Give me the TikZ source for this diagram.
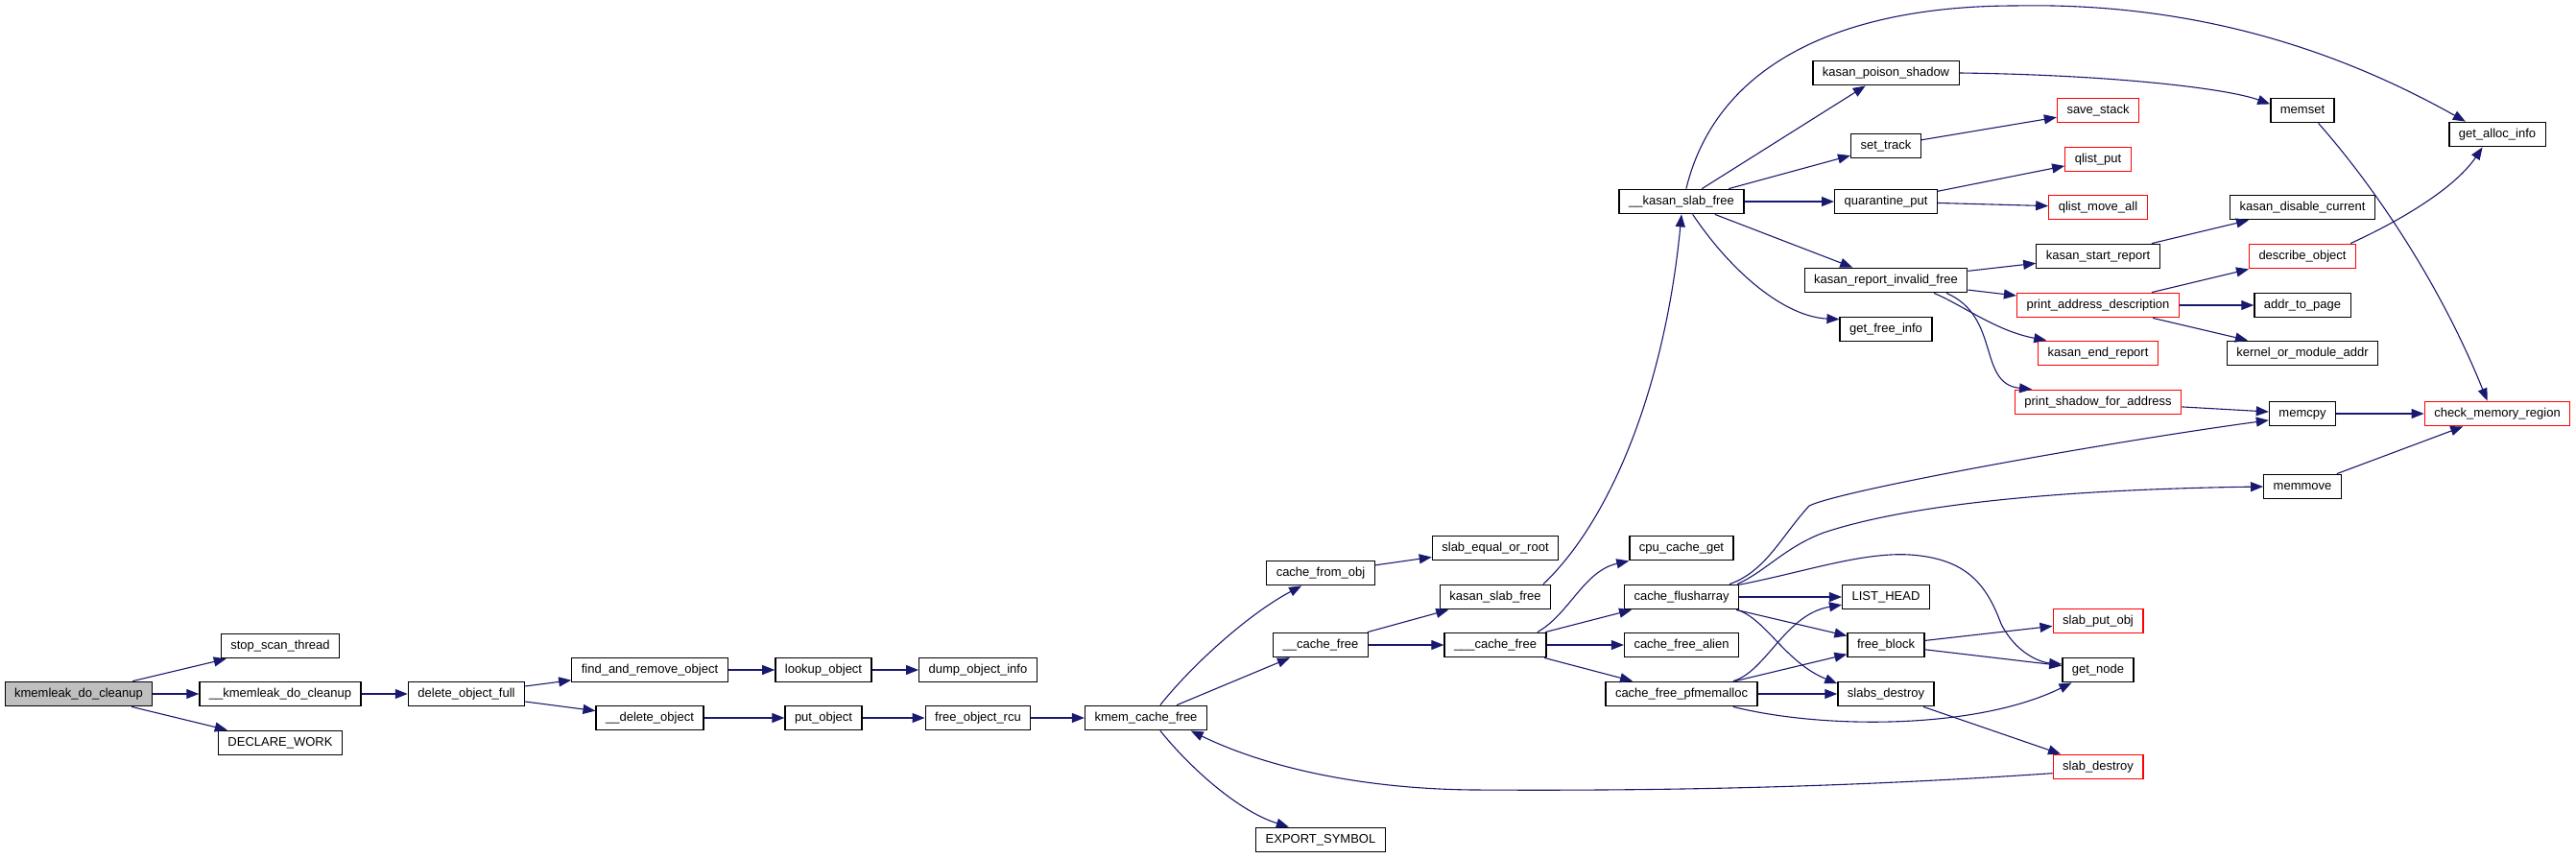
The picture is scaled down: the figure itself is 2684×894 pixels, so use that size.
\documentclass[tikz,border=0pt]{standalone}
\usepackage{fontspec}
\newfontfamily\callfont{Liberation Sans}
\usetikzlibrary{arrows.meta}
\definecolor{CallBlue}{HTML}{191970}
\definecolor{CallRed}{HTML}{FF0000}
\definecolor{CallGray}{HTML}{BFBFBF}

\begin{document}
\begin{tikzpicture}[x=1pt,y=-1pt,
  fn/.style={draw=black,line width=1.3pt,fill=white,inner xsep=10pt,inner ysep=0pt,
    minimum height=25.5pt,text height=9.4pt,text depth=2.8pt,
    font=\callfont\fontsize{13}{15}\selectfont},
  fnred/.style={fn,draw=CallRed},
  fnroot/.style={fn,fill=CallGray},
  call/.style={draw=CallBlue,line width=1.1pt,-{Triangle[length=13pt,width=10pt]}}]
  \useasboundingbox (0,0) rectangle (2684,894);
  \foreach \nm/\px/\py/\sty/\lbl in {
    kdc/82/723/fnroot/kmemleak\_do\_cleanup,
    sst/292/673/fn/stop\_scan\_thread,
    ikdc/292/723/fn/\_\_kmemleak\_do\_cleanup,
    dw/292/774/fn/DECLARE\_WORK,
    dof/486/723/fn/delete\_object\_full,
    faro/677/698/fn/find\_and\_remove\_object,
    idelo/677/748/fn/\_\_delete\_object,
    lo/858/698/fn/lookup\_object,
    po/858/748/fn/put\_object,
    doi/1019/698/fn/dump\_object\_info,
    fobr/1019/748/fn/free\_object\_rcu,
    kcf/1194/748/fn/kmem\_cache\_free,
    cfo/1376/597/fn/cache\_from\_obj,
    icf/1376/672/fn/\_\_cache\_free,
    es/1376/875/fn/EXPORT\_SYMBOL,
    seor/1558/571/fn/slab\_equal\_or\_root,
    ksf/1558/622/fn/kasan\_slab\_free,
    iicf/1558/672/fn/\_\_\_cache\_free,
    iksf/1752/210/fn/\_\_kasan\_slab\_free,
    ccg/1752/571/fn/cpu\_cache\_get,
    cfa/1752/622/fn/cache\_flusharray,
    cfal/1752/672/fn/cache\_free\_alien,
    cfp/1752/723/fn/cache\_free\_pfmemalloc,
    kps/1965/76/fn/kasan\_poison\_shadow,
    st/1965/152/fn/set\_track,
    qp/1965/210/fn/quarantine\_put,
    krif/1965/292/fn/kasan\_report\_invalid\_free,
    gfi/1965/343/fn/get\_free\_info,
    lh/1965/622/fn/LIST\_HEAD,
    fb/1965/672/fn/free\_block,
    sd/1965/723/fn/slabs\_destroy,
    ss/2186/115/fnred/save\_stack,
    qlp/2186/166/fnred/qlist\_put,
    qma/2186/216/fnred/qlist\_move\_all,
    ksr/2186/267/fn/kasan\_start\_report,
    pad/2186/318/fnred/print\_address\_description,
    ker/2186/368/fnred/kasan\_end\_report,
    psa/2186/419/fnred/print\_shadow\_for\_address,
    spo/2186/647/fnred/slab\_put\_obj,
    gn/2186/698/fn/get\_node,
    sld/2186/799/fnred/slab\_destroy,
    ms/2399/115/fn/memset,
    kdcur/2399/216/fn/kasan\_disable\_current,
    dob/2399/267/fnred/describe\_object,
    atp/2399/318/fn/addr\_to\_page,
    koma/2399/368/fn/kernel\_or\_module\_addr,
    mcp/2399/431/fn/memcpy,
    mmv/2399/507/fn/memmove,
    gai/2602/140/fn/get\_alloc\_info,
    cmr/2602/431/fnred/check\_memory\_region}
    \node[\sty] (\nm) at (\px,\py) {\lbl};
  \foreach \a/\b in {kdc/sst,kdc/ikdc,kdc/dw,ikdc/dof,dof/faro,dof/idelo,faro/lo,lo/doi,
    idelo/po,po/fobr,fobr/kcf,kcf/icf,cfo/seor,icf/ksf,icf/iicf,iicf/cfa,iicf/cfal,iicf/cfp,
    iksf/kps,iksf/st,iksf/qp,iksf/krif,st/ss,qp/qlp,qp/qma,krif/ksr,krif/pad,ksr/kdcur,
    pad/dob,pad/atp,pad/koma,psa/mcp,mcp/cmr,mmv/cmr,cfa/lh,cfa/fb,cfp/fb,cfp/sd,
    fb/spo,fb/gn,sd/sld}
    \draw[call] (\a) -- (\b);
  \draw[call] (kcf.42) .. controls (1240,695) and (1300,640) .. (cfo.-146);
  \draw[call] (kcf.-42) .. controls (1240,800) and (1290,845) .. (es.158);
  \draw[call] (ksf.15) .. controls (1680,540) and (1735,400) .. (iksf.-90);
  \draw[call] (iksf.70) .. controls (1790,60) and (1930,6) .. (2100,6)
    .. controls (2300,2) and (2450,60) .. (gai.158);
  \draw[call] (iksf.-49) .. controls (1805,285) and (1860,330) .. (gfi.168);
  \draw[call] (kps.east) .. controls (2200,78) and (2320,92) .. (ms.169);
  \draw[call] (krif.-15) .. controls (2045,318) and (2080,345) .. (ker.166);
  \draw[call] (krif.-12) .. controls (2085,330) and (2060,400) .. (psa.169);
  \draw[call] (dob.15) .. controls (2490,235) and (2555,200) .. (gai.-139);
  \draw[call] (ms.-39) .. controls (2470,190) and (2540,290) .. (cmr.128);
  \draw[call] (iicf.17) .. controls (1635,640) and (1650,595) .. (ccg.south west);
  \draw[call] (cfa.15) .. controls (1840,595) and (1855,560) .. (1885,527)
    .. controls (1920,510) and (2200,460) .. (mcp.-169);
  \draw[call] (cfa.13) .. controls (1840,595) and (1860,570) .. (1900,555)
    .. controls (1990,525) and (2150,510) .. (mmv.west);
  \draw[call] (cfa.12) .. controls (1880,596) and (1940,575) .. (1990,578)
    .. controls (2050,582) and (2070,610) .. (2085,650)
    .. controls (2100,680) and (2125,690) .. (gn.171);
  \draw[call] (cfa.-13) .. controls (1840,645) and (1860,690) .. (sd.168);
  \draw[call] (cfp.14) .. controls (1840,700) and (1860,640) .. (lh.190);
  \draw[call] (cfp.-14) .. controls (1900,760) and (2060,760) .. (gn.-154);
  \draw[call] (sld.188) .. controls (1900,822) and (1700,824) .. (1536,823)
    .. controls (1420,822) and (1320,800) .. (kcf.-16);
\end{tikzpicture}
\end{document}
